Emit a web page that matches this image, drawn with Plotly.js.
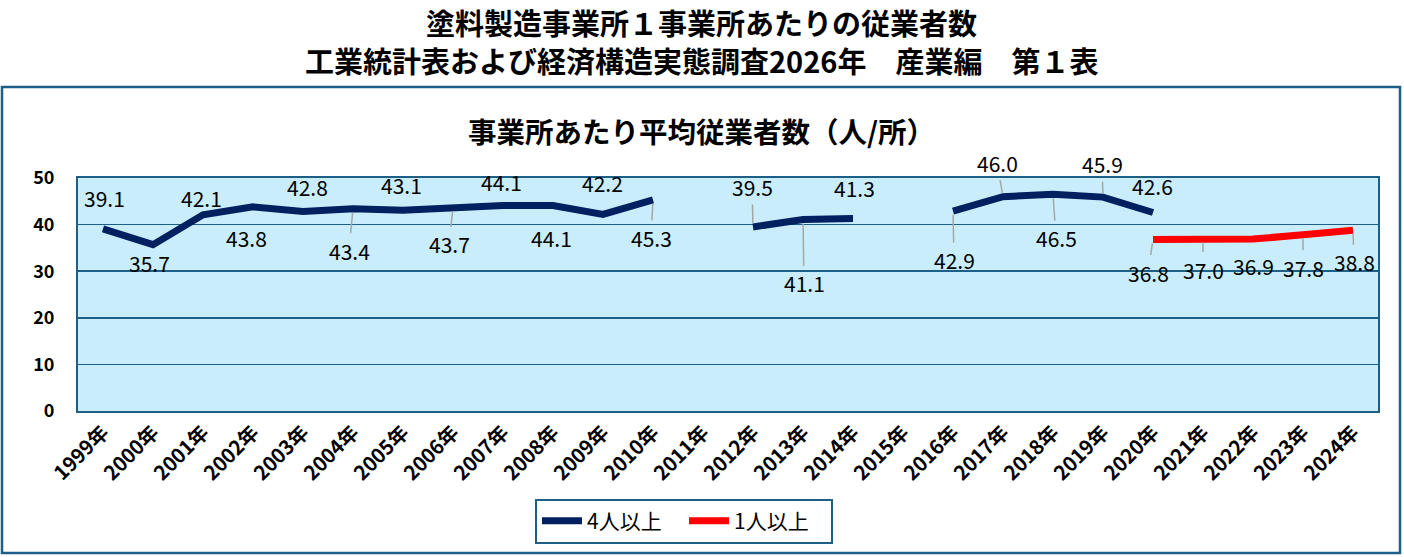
<!DOCTYPE html>
<html>
<head>
<meta charset="utf-8">
<script src="https://cdn.plot.ly/plotly-3.0.1.min.js"></script>
<style>
  html, body { margin: 0; padding: 0; background: #fff; }
  #plot { width: 1404px; height: 557px; }
</style>
</head>
<body>
<div id="plot"></div>
<script>
const years = ['1999年', '2000年', '2001年', '2002年', '2003年', '2004年', '2005年', '2006年',
  '2007年', '2008年', '2009年', '2010年', '2011年', '2012年', '2013年', '2014年', '2015年',
  '2016年', '2017年', '2018年', '2019年', '2020年', '2021年', '2022年', '2023年', '2024年'];

// 工業統計表 (4人以上)
const over4 = [39.1, 35.7, 42.1, 43.8, 42.8, 43.4, 43.1, 43.7, 44.1, 44.1, 42.2, 45.3, null,
  39.5, 41.1, 41.3, null, 42.9, 46.0, 46.5, 45.9, 42.6, null, null, null, null];

// 経済構造実態調査 (1人以上)
const over1 = [null, null, null, null, null, null, null, null, null, null, null, null, null,
  null, null, null, null, null, null, null, null, 36.8, 37.0, 36.9, 37.8, 38.8];

const yTicks = [0, 10, 20, 30, 40, 50];

// label offsets in px [ax, ay, leader]
const over4Offsets = [
  [1, -31, 0], [-4, 18, 0], [-2, -17, 0], [-7, 31, 0], [4, -25, 0], [-4, 42, 1],
  [-2, -25, 0], [-4, 37, 1], [-2, -23, 0], [-2, 33, 0], [-1, -31, 0], [-2, 38, 1], null,
  [-1, -40, 1], [1, 64, 1], [1, -31, 0], null, [1, 49, 1], [-6, -34, 1], [3, 44, 1],
  [-1, -33, 1], [-1, -26, 0]];
const over1Offsets = {
  21: [-5, 33, 1], 22: [0, 31, 1], 23: [0, 27, 0], 24: [0, 33, 1], 25: [1, 32, 1],
};

const frame = '#1d5f86';
const font = '"Noto Sans CJK JP", "Noto Sans", sans-serif';

function makeLabels(values, offsets) {
  const out = [];
  values.forEach((v, i) => {
    const off = offsets[i];
    if (v === null || !off) return;
    out.push({
      x: years[i],
      y: v,
      xref: 'x',
      yref: 'y',
      text: v.toFixed(1),
      showarrow: true,
      ax: off[0],
      ay: off[1],
      arrowhead: 0,
      arrowwidth: 1.5,
      arrowcolor: off[2] ? '#a6a6a6' : 'rgba(0,0,0,0)',
      standoff: 4,
      borderpad: 2,
      font: { family: font, size: 21, color: '#000' },
    });
  });
  return out;
}

const traces = [
  {
    x: years,
    y: over4,
    name: '4人以上',
    type: 'scatter',
    mode: 'lines',
    connectgaps: false,
    line: { color: '#002060', width: 7 },
  },
  {
    x: years,
    y: over1,
    name: '1人以上',
    type: 'scatter',
    mode: 'lines',
    connectgaps: false,
    line: { color: '#ff0000', width: 7 },
  },
];

const titles = [
  { text: '<b>塗料製造事業所１事業所あたりの従業者数</b>', y: 22, size: 29 },
  { text: '<b>工業統計表および経済構造実態調査2026年　産業編　第１表</b>', y: 60, size: 29 },
  { text: '<b>事業所あたり平均従業者数（人/所）</b>', y: 130, size: 28.5 },
].map((t) => ({
  text: t.text,
  xref: 'paper',
  yref: 'paper',
  x: (701 - 78) / 1300,
  y: (411 - t.y) / 233,
  xanchor: 'center',
  yanchor: 'middle',
  showarrow: false,
  font: { family: font, size: t.size, color: '#000' },
}));

const layout = {
  width: 1404,
  height: 557,
  margin: { l: 78, r: 26, t: 178, b: 146 },
  paper_bgcolor: '#ffffff',
  plot_bgcolor: '#c9edfb',
  font: { family: font, color: '#000' },
  showlegend: true,
  legend: {
    orientation: 'h',
    x: (684 - 78) / 1300,
    y: (411 - 521) / 233,
    xanchor: 'center',
    yanchor: 'middle',
    bordercolor: frame,
    borderwidth: 2,
    bgcolor: '#ffffff',
    font: { family: font, size: 21, color: '#000' },
    entrywidth: 92,
    itemwidth: 40,
  },
  xaxis: {
    type: 'category',
    range: [-0.5, 25.5],
    tickangle: -45,
    tickfont: { family: font, size: 20, color: '#000', weight: 'bold' },
    showgrid: false,
    showline: true,
    mirror: true,
    linecolor: frame,
    linewidth: 2,
    ticks: '',
    automargin: false,
    fixedrange: true,
  },
  yaxis: {
    range: [0, 50],
    tickvals: yTicks,
    ticktext: yTicks.map(String),
    tickfont: { family: font, size: 18, color: '#000', weight: 'bold' },
    ticklabelstandoff: 18,
    showgrid: true,
    gridcolor: frame,
    gridwidth: 1.5,
    zeroline: false,
    showline: true,
    mirror: true,
    linecolor: frame,
    linewidth: 2,
    ticks: '',
    automargin: false,
    fixedrange: true,
  },
  shapes: [
    {
      type: 'rect',
      xref: 'paper',
      yref: 'paper',
      x0: (2 - 78) / 1300,
      x1: (1400 - 78) / 1300,
      y0: (411 - 553) / 233,
      y1: (411 - 87) / 233,
      line: { color: frame, width: 2.5 },
      layer: 'below',
    },
  ],
  annotations: titles
    .concat(makeLabels(over4, over4Offsets))
    .concat(makeLabels(over1, over1Offsets)),
};

Plotly.newPlot('plot', traces, layout, { displayModeBar: false, staticPlot: true });
</script>
</body>
</html>
